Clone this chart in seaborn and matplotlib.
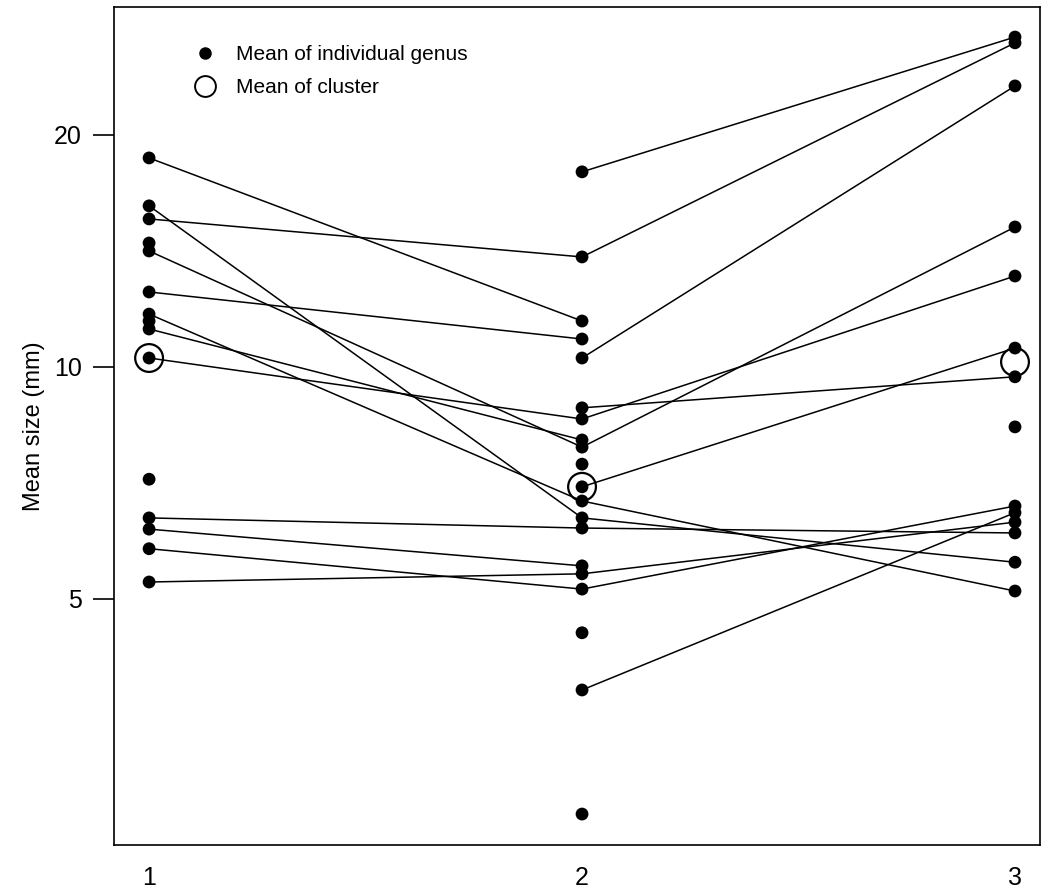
import numpy as np
import pandas as pd
import matplotlib
matplotlib.use("Agg")
import matplotlib.pyplot as plt
from matplotlib.lines import Line2D
from matplotlib.ticker import NullLocator
import seaborn as sns

# ---------------- data ----------------
clusters = [1, 2, 3]
cluster_labels = ["1", "2", "3"]

# means of individual genera in each cluster (mm)
genus_c1 = [18.67, 16.18, 15.56, 14.48, 14.14, 12.51, 11.71, 11.47, 11.20, 10.27,
            7.15, 6.37, 6.16, 5.81, 5.26]
genus_c2 = [17.91, 13.89, 11.47, 10.87, 10.27, 8.85, 8.56, 8.04, 7.87, 7.48,
            6.99, 6.70, 6.37, 6.18, 5.52, 5.39, 5.15, 4.52, 3.81, 2.63]
genus_c3 = [26.79, 26.33, 23.15, 15.19, 13.12, 10.58, 9.71, 8.36, 6.60, 6.47,
            6.29, 6.09, 5.58, 5.12]

# cluster means
cluster_means = [10.27, 6.99, 10.15]

# links of the same genus between cluster 1 and 2 (from, to)
links_12_from = [18.67, 16.18, 15.56, 14.14, 12.51, 11.71, 11.20, 10.27, 6.37, 6.16, 5.81, 5.26]
links_12_to   = [11.47, 6.37, 13.89, 7.87, 10.87, 6.70, 8.04, 8.56, 6.18, 5.52, 5.15, 5.39]
# links between cluster 2 and 3
links_23_from = [17.91, 13.89, 10.27, 7.87, 8.56, 6.99, 8.85, 5.15, 3.81, 5.39, 6.18, 6.70, 6.37]
links_23_to   = [26.79, 26.33, 23.15, 15.19, 13.12, 10.58, 9.71, 6.60, 6.47, 6.29, 6.09, 5.12, 5.58]

legend_labels = ["Mean of individual genus", "Mean of cluster"]
y_ticks = [5, 10, 20]

# ---------------- frames ----------------
pts = pd.DataFrame({
    "cluster": [1] * len(genus_c1) + [2] * len(genus_c2) + [3] * len(genus_c3),
    "size": genus_c1 + genus_c2 + genus_c3,
})

rows = []
sid = 0
for a, b in zip(links_12_from, links_12_to):
    rows += [(sid, 1, a), (sid, 2, b)]
    sid += 1
for a, b in zip(links_23_from, links_23_to):
    rows += [(sid, 2, a), (sid, 3, b)]
    sid += 1
segs = pd.DataFrame(rows, columns=["seg", "cluster", "size"])

means = pd.DataFrame({"cluster": clusters, "size": cluster_means})

# ---------------- plot ----------------
sns.set_style("ticks")
plt.rcParams["font.family"] = ["Liberation Sans", "DejaVu Sans"]
plt.rcParams["text.color"] = "black"
plt.rcParams["axes.labelcolor"] = "black"
plt.rcParams["xtick.color"] = "black"
plt.rcParams["ytick.color"] = "black"

fig = plt.figure(figsize=(10.45, 8.9), dpi=100)
ax = fig.add_axes([0.1091, 0.0506, 0.8861, 0.9416])

sns.lineplot(data=segs, x="cluster", y="size", units="seg", estimator=None,
             color="black", lw=1.1, sort=False, legend=False, ax=ax)
sns.scatterplot(data=pts, x="cluster", y="size", color="black", s=85,
                edgecolor="none", legend=False, ax=ax, zorder=3)
sns.scatterplot(data=means, x="cluster", y="size", s=400, facecolor="none",
                edgecolor="black", linewidth=1.6, legend=False, ax=ax, zorder=4)

ax.set_yscale("log")
ax.set_ylim(2.398, 29.31)
ax.set_xlim(0.919, 3.0577)
ax.set_yticks(y_ticks)
ax.set_yticklabels([str(t) for t in y_ticks])
ax.yaxis.set_minor_locator(NullLocator())
ax.set_xticks(clusters)
ax.set_xticklabels(cluster_labels)
ax.tick_params(axis="x", length=0, labelsize=18, pad=15, colors="black")
ax.tick_params(axis="y", length=15, width=1.2, labelsize=18, pad=8, colors="black")
ax.set_xlabel("")
ax.set_ylabel("Mean size (mm)", fontsize=17, color="black")
ax.yaxis.set_label_coords(-0.075, 0.5)
for sp in ax.spines.values():
    sp.set_visible(True)
    sp.set_linewidth(1.2)
    sp.set_color("black")

handles = [
    Line2D([], [], ls="", marker="o", color="black", markersize=8),
    Line2D([], [], ls="", marker="o", mfc="none", mec="black", markersize=15, mew=1.4),
]
leg = ax.legend(handles, legend_labels, loc="upper left", bbox_to_anchor=(0.067, 0.964),
                frameon=False, fontsize=15, handletextpad=0.5, labelspacing=0.65,
                borderaxespad=0)
for t in leg.get_texts():
    t.set_color("black")

fig.savefig("out.png", dpi=100)
